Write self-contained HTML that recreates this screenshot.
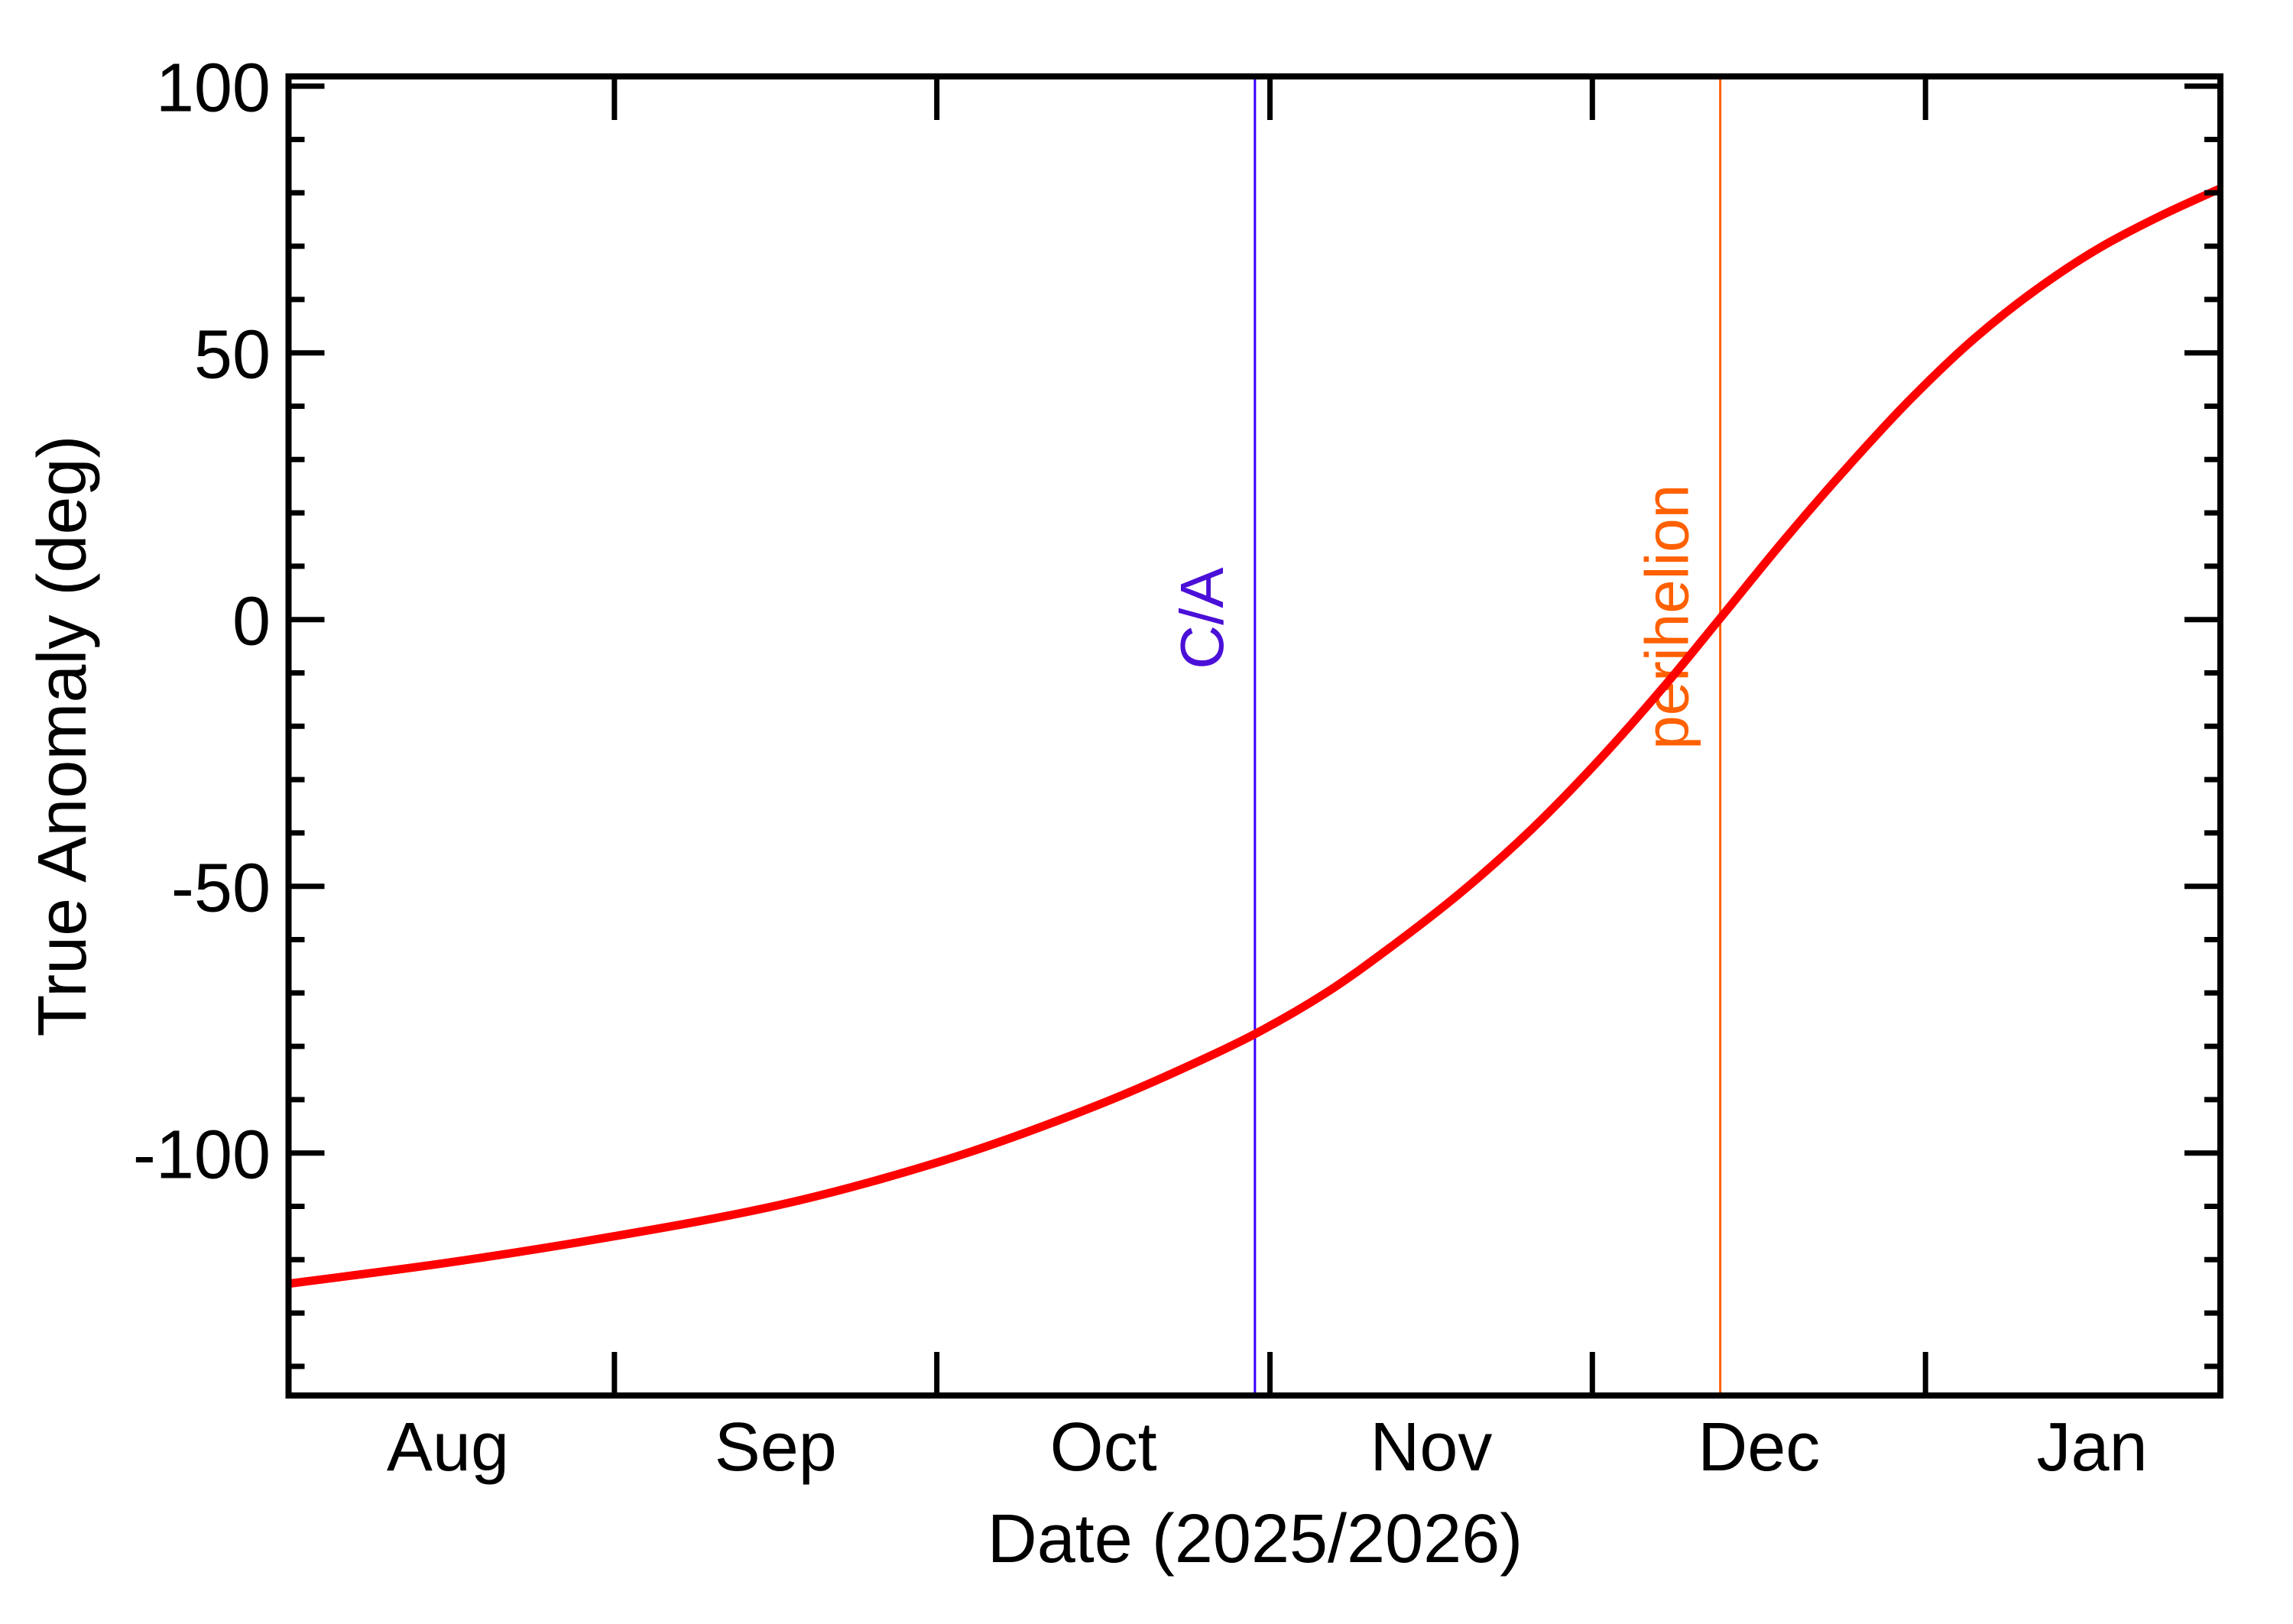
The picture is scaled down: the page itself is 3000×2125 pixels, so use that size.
<!DOCTYPE html>
<html><head><meta charset="utf-8"><style>
html,body{margin:0;padding:0;background:#fff;}
svg{display:block;font-family:"Liberation Sans",Arial,sans-serif;}
</style></head><body>
<svg id="chart" width="3000" height="2125" viewBox="0 0 3000 2125" xmlns="http://www.w3.org/2000/svg">
<rect x="0" y="0" width="3000" height="2125" fill="#fff"/>
<g id="marks"></g>
<g id="axes"></g>
</svg>
<script>
// data (days since 2025 Aug 1, true anomaly deg)
const curveDays = [0.7, 15, 31, 46, 61, 76, 87.6, 90.6, 97.2, 103.5, 109.8, 116.2, 122.5, 128.9, 133.8, 139.8, 145.7, 151.6, 157.5, 163.4, 169.3, 175.2, 180.4];
const curveVals = [-124.5, -120.7, -115.6, -109.9, -101.8, -91.0, -80.7, -77.7, -70, -61.0, -51.1, -39.6, -26.6, -12.0, 0, 14.8, 28.5, 41.3, 52.6, 62.0, 69.8, 76.0, 80.8];
const monthTickDays = [31, 61, 92, 122, 153];
const monthLabels = ["Aug", "Sep", "Oct", "Nov", "Dec", "Jan"];
const monthLabelDays = [15.5, 46, 76.5, 107, 137.5, 168.5];
const yMajorTicks = [-100, -50, 0, 50, 100];
const yMajorLabels = ["-100", "-50", "0", "50", "100"];
const yMinorTicks = [-140,-130,-120,-110,-90,-80,-70,-60,-40,-30,-20,-10,10,20,30,40,60,70,80,90];
const caDay = 90.6;
const periDay = 133.9;

const NS = "http://www.w3.org/2000/svg";
const L = 377.5, R = 2905, T = 100, B = 1826;
function xs(d){ return 368 + d * 14.06; }
function ys(v){ return 810.7 - v * 6.98; }
function mk(tag, attrs, parent){
  const e = document.createElementNS(NS, tag);
  for (const k in attrs) e.setAttribute(k, attrs[k]);
  parent.appendChild(e); return e;
}
const marks = document.getElementById('marks');
const axes = document.getElementById('axes');

let ca = mk('line', {x1: xs(caDay), x2: xs(caDay), y1: T, y2: B, stroke: '#3a00ff', 'stroke-width': 3}, marks);


let pe = mk('line', {x1: xs(periDay), x2: xs(periDay), y1: T, y2: B, stroke: '#ff6000', 'stroke-width': 3}, marks);



let caT = mk('text', {transform: `translate(${xs(caDay)-42},${ys(0)+65}) rotate(-90)`, fill: '#4b10d8', 'font-size': 80}, marks);
caT.textContent = 'C/A';


let peT = mk('text', {transform: `translate(${xs(periDay)-42},${ys(0)+170}) rotate(-90)`, fill: '#ff6000', 'font-size': 80}, marks);
peT.textContent = 'perihelion';



// monotone cubic (Fritsch-Carlson) in data space
const n = curveDays.length;
const sl = [];
for (let i = 0; i < n-1; i++) sl.push((curveVals[i+1]-curveVals[i])/(curveDays[i+1]-curveDays[i]));
const tg = [sl[0]];
for (let i = 1; i < n-1; i++){
  const h0 = curveDays[i]-curveDays[i-1], h1 = curveDays[i+1]-curveDays[i];
  if (sl[i-1]*sl[i] <= 0) tg.push(0);
  else { const w1 = 2*h1+h0, w2 = h1+2*h0; tg.push((w1+w2)/(w1/sl[i-1]+w2/sl[i])); }
}
tg.push(sl[n-2]);
let dstr = `M${xs(curveDays[0])},${ys(curveVals[0])}`;
for (let i = 0; i < n-1; i++){
  const h = curveDays[i+1]-curveDays[i];
  const c1d = curveDays[i]+h/3, c1v = curveVals[i]+tg[i]*h/3;
  const c2d = curveDays[i+1]-h/3, c2v = curveVals[i+1]-tg[i+1]*h/3;
  dstr += ` C${xs(c1d)},${ys(c1v)} ${xs(c2d)},${ys(c2v)} ${xs(curveDays[i+1])},${ys(curveVals[i+1])}`;
}
let cp = mk('clipPath', {id: 'plotclip'}, marks);
mk('rect', {x: L, y: T, width: R-L, height: B-T}, cp);
let curve = mk('path', {d: dstr, fill: 'none', stroke: '#ff0000', 'stroke-width': 11, 'clip-path': 'url(#plotclip)'}, marks);



let fr = mk('rect', {x: L, y: T, width: R-L, height: B-T, fill: 'none', stroke: '#000', 'stroke-width': 8}, axes);



yMajorTicks.forEach((v, i) => {
  const y = ys(v);
  let t1 = mk('line', {x1: L, x2: L+47, y1: y, y2: y, stroke: '#000', 'stroke-width': 7}, axes);
  
  
  let t2 = mk('line', {x1: R-47, x2: R, y1: y, y2: y, stroke: '#000', 'stroke-width': 7}, axes);
  
  
  let lb = mk('text', {x: 354, y: y + 33, 'text-anchor': 'end', 'font-size': 90, fill: '#000'}, axes);
  lb.textContent = yMajorLabels[i];
  
  
});
yMinorTicks.forEach(v => {
  const y = ys(v);
  let t1 = mk('line', {x1: L, x2: L+21, y1: y, y2: y, stroke: '#000', 'stroke-width': 7}, axes);
  
  
  let t2 = mk('line', {x1: R-21, x2: R, y1: y, y2: y, stroke: '#000', 'stroke-width': 7}, axes);
  
  
});
monthTickDays.forEach(d => {
  const x = xs(d);
  let t1 = mk('line', {x1: x, x2: x, y1: B, y2: B-57, stroke: '#000', 'stroke-width': 7}, axes);
  
  
  let t2 = mk('line', {x1: x, x2: x, y1: T, y2: T+57, stroke: '#000', 'stroke-width': 7}, axes);
  
  
});
monthLabels.forEach((m, i) => {
  let lb = mk('text', {x: xs(monthLabelDays[i]), y: 1924, 'text-anchor': 'middle', 'font-size': 90, fill: '#000'}, axes);
  lb.textContent = m;
  
  
});
let xt = mk('text', {x: 1642, y: 2044, 'text-anchor': 'middle', 'font-size': 90, fill: '#000'}, axes);
xt.textContent = 'Date (2025/2026)';


let yt = mk('text', {transform: 'translate(112,963) rotate(-90)', 'text-anchor': 'middle', 'font-size': 90, fill: '#000'}, axes);
yt.textContent = 'True Anomaly (deg)';


</script>
</body></html>
